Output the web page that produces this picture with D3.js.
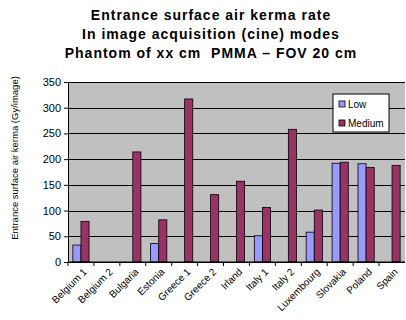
<!DOCTYPE html>
<meta charset="utf-8">
<style>
body { margin: 0; background: #fff; }
.axis text { font: 10px "Liberation Sans", Arial, sans-serif; fill: #000; }
.axis path, .axis line { stroke: #000; }
.grid line { stroke: #000; shape-rendering: crispEdges; }
.grid path { stroke-width: 0; }
.titles { font: bold 14px "Liberation Sans", Arial, sans-serif; letter-spacing: 1px; white-space: pre; }
</style>
<body>
<script src="https://cdn.jsdelivr.net/npm/d3@7"></script>
<script>

var countries = ["Belgium 1", "Belgium 2", "Bulgaria", "Estonia", "Greece 1", "Greece 2",
                 "Irland", "Italy 1", "Italy 2", "Luxembourg", "Slovakia", "Poland", "Spain"];
var lowValues    = [33, 0, 0, 36, 0, 0, 0, 51, 0, 58, 192, 191, 0];
var mediumValues = [79, 0, 214, 82, 317, 131, 157, 106, 258, 101, 194, 184, 188];
var seriesNames = ["Low", "Medium"];
var yTicks = [0, 50, 100, 150, 200, 250, 300, 350];
var titleLines = ["Entrance surface air kerma rate",
                  "In image acquisition (cine) modes",
                  "Phantom of xx cm  PMMA \u2013 FOV 20 cm"];

var margin = {top: 82, right: 1, bottom: 58, left: 68},
    width = 406 - margin.left - margin.right,
    height = 320 - margin.top - margin.bottom;

var svg = d3.select("body").append("svg")
    .attr("width", 406)
    .attr("height", 320);

var g = svg.append("g")
    .attr("transform", "translate(" + margin.left + "," + margin.top + ")");

var x0 = d3.scaleBand().domain(countries).range([0, width]).paddingInner(0).paddingOuter(0);
var x1 = d3.scaleBand().domain(seriesNames).range([0, x0.bandwidth()]).paddingOuter(0.6).paddingInner(0);
var y = d3.scaleLinear().domain([0, 350]).range([height, 0]);
var z = d3.scaleOrdinal().domain(seriesNames).range(["#9999ff", "#993366"]);

// plot area
g.append("rect")
    .attr("width", width)
    .attr("height", height)
    .attr("fill", "#c0c0c0");

// gridlines
g.append("g")
    .attr("class", "grid")
    .call(d3.axisLeft(y).tickValues(yTicks).tickSize(-width).tickFormat(""));

var data = countries.map(function(c, i) {
  return {country: c, values: [lowValues[i], mediumValues[i]]};
});

var groups = g.selectAll(".grp")
    .data(data)
  .enter().append("g")
    .attr("transform", function(d) { return "translate(" + x0(d.country) + ",0)"; });

groups.selectAll("rect")
    .data(function(d) {
      return d.values.map(function(v, i) { return {key: seriesNames[i], value: v}; })
        .filter(function(e) { return e.value > 0; });
    })
  .enter().append("rect")
    .attr("x", function(d) { return x1(d.key); })
    .attr("y", function(d) { return y(d.value); })
    .attr("width", x1.bandwidth())
    .attr("height", function(d) { return height - y(d.value); })
    .attr("fill", function(d) { return z(d.key); })
    .attr("stroke", "#000")
    .attr("stroke-width", 0.8);

// y axis
g.append("g")
    .attr("class", "axis")
    .call(d3.axisLeft(y).tickValues(yTicks).tickSize(4).tickSizeOuter(0))
    .call(function(a) { a.selectAll("text").style("font-size", "11px"); });

// x axis with ticks between categories
var xAxis = g.append("g")
    .attr("class", "axis")
    .attr("transform", "translate(0," + height + ")");
xAxis.append("line")
    .attr("x1", 0).attr("x2", width)
    .attr("stroke", "#000");
xAxis.selectAll(".tk")
    .data(countries)
  .enter().append("line")
    .attr("x1", function(d) { return x0(d); })
    .attr("x2", function(d) { return x0(d); })
    .attr("y1", 0).attr("y2", 4)
    .attr("stroke", "#000");
xAxis.selectAll(".lbl")
    .data(countries)
  .enter().append("text")
    .attr("transform", function(d) {
      return "translate(" + (x0(d) + x0.bandwidth() / 2 + 4) + ",8) rotate(-45)";
    })
    .attr("text-anchor", "end")
    .attr("dy", "0.35em")
    .style("font-size", "10px")
    .text(function(d) { return d; });

// y axis title
svg.append("text")
    .attr("transform", "translate(18,158) rotate(-90)")
    .attr("text-anchor", "middle")
    .style("font", "9.5px 'Liberation Sans', Arial, sans-serif")
    .text("Entrance surface air kerma (Gy/image)");

// title
svg.selectAll(".titles")
    .data(titleLines)
  .enter().append("text")
    .attr("class", "titles")
    .attr("x", 211)
    .attr("y", function(d, i) { return 20 + i * 19; })
    .attr("text-anchor", "middle")
    .text(function(d) { return d; });

// legend
var legend = svg.append("g").attr("transform", "translate(333,94)");
legend.append("rect")
    .attr("width", 56).attr("height", 38)
    .attr("fill", "#fff").attr("stroke", "#000");
var items = legend.selectAll(".item")
    .data(seriesNames)
  .enter().append("g")
    .attr("transform", function(d, i) { return "translate(6," + (10 + i * 19) + ")"; });
items.append("rect")
    .attr("x", 0).attr("y", -3)
    .attr("width", 6).attr("height", 6)
    .attr("fill", z)
    .attr("stroke", "#000").attr("stroke-width", 0.8);
items.append("text")
    .attr("x", 9)
    .attr("dy", "0.35em")
    .style("font", "10px 'Liberation Sans', Arial, sans-serif")
    .text(function(d) { return d; });

</script>
</body>
